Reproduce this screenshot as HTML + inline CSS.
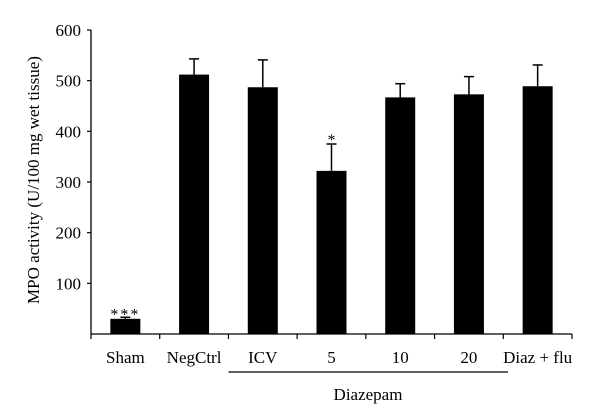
<!DOCTYPE html>
<html><head><meta charset="utf-8"><style>
body{margin:0;background:#fff}
svg{display:block;font-family:"Liberation Serif",serif}
</style></head><body>
<svg id="chart" width="600" height="419" viewBox="0 0 600 419"></svg>
<script>
const categories=["Sham","NegCtrl","ICV","5","10","20","Diaz + flu"];
const values=[30,512,487,322,467,473,489];
const errors=[3,31,54,53,27,35,42];
const marks=["***","","","*","","",""];
const yTicks=[100,200,300,400,500,600];
const ns="http://www.w3.org/2000/svg";
const svg=document.getElementById("chart");
const x0=91,x1=572,yTop=30,yBot=334,yMax=600;
const bw=(x1-x0)/categories.length;
const y=v=>yBot-(v/yMax)*(yBot-yTop);
const xc=i=>x0+bw*(i+0.5);
function el(t,a){const e=document.createElementNS(ns,t);for(const k in a)e.setAttribute(k,a[k]);svg.appendChild(e);return e;}
let a=el("line",{x1:x0,y1:yTop,x2:x0,y2:yBot,stroke:"#000","stroke-width":1.3});


a=el("line",{x1:x0,y1:yBot,x2:x1,y2:yBot,stroke:"#000","stroke-width":1.3});


yTicks.forEach(v=>{
 const t=el("line",{x1:x0-4,y1:y(v),x2:x0,y2:y(v),stroke:"#000","stroke-width":1.2});
 
 
 const l=el("text",{x:x0-10,y:y(v)+6,"text-anchor":"end","font-size":17});
 l.textContent=v;
 
 
});
for(let i=0;i<=categories.length;i++){
 const t=el("line",{x1:x0+bw*i,y1:yBot,x2:x0+bw*i,y2:yBot+5,stroke:"#000","stroke-width":1.2});
 
 
}
categories.forEach((c,i)=>{
 const cx=xc(i),top=y(values[i]),et=y(values[i]+errors[i]);
 const e=el("line",{x1:cx,y1:et,x2:cx,y2:top,stroke:"#000","stroke-width":1.5});
 
 
 const cap=el("line",{x1:cx-5,y1:et,x2:cx+5,y2:et,stroke:"#000","stroke-width":1.5});
 
 
 const b=el("rect",{x:cx-15,y:top,width:30,height:yBot-top,fill:"#000"});
 
 
 const l=el("text",{x:cx,y:363,"text-anchor":"middle","font-size":17});
 l.textContent=c;
 
 
 if(marks[i]){
  const m=el("text",{x:cx,y:et+(i==0?2:1),"text-anchor":"middle","font-size":16,"letter-spacing":marks[i].length>1?2:0});
  m.textContent=marks[i];
  
  
 }
});
a=el("line",{x1:x0+bw*2,y1:372,x2:508,y2:372,stroke:"#000","stroke-width":1.2});


a=el("text",{x:368,y:400,"text-anchor":"middle","font-size":17});
a.textContent="Diazepam";


a=el("text",{x:0,y:0,"text-anchor":"middle","font-size":17,transform:"translate(39,180) rotate(-90)"});
a.textContent="MPO activity (U/100 mg wet tissue)";


</script>
</body></html>
